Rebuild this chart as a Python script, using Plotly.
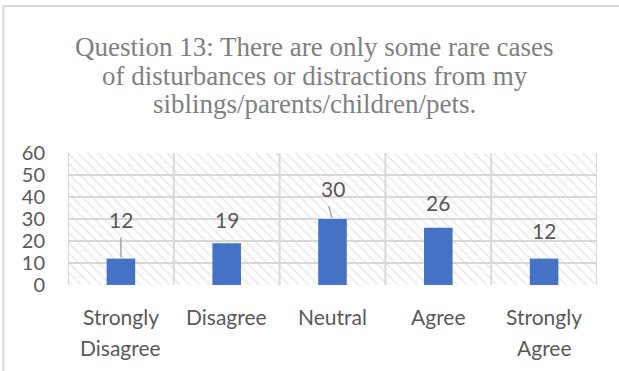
import plotly.graph_objects as go

categories = ["Strongly\nDisagree", "Disagree", "Neutral", "Agree", "Strongly\nAgree"]
values = [12, 19, 30, 26, 12]
y_ticks = [0, 10, 20, 30, 40, 50, 60]
title_lines = ["Question 13: There are only some rare cases",
               "of disturbances or distractions from my",
               "siblings/parents/children/pets."]

# layout / style (not data)
W, H = 619, 371
ML, MR, MT, MB = 68, 22, 153, 86
YMAX = y_ticks[-1]
label_lift = [18, 11, 14, 11.7, 13]      # label offset above bar (in axis units)
BAR_COLOR = "#4472C4"
GRID = "#d9d9d9"
TXT = "#595959"
FONT = "Lato, Open Sans, sans-serif"
TICKFONT = dict(family=FONT, size=21, color=TXT)
YTICKFONT = dict(family=FONT, size=20, color=TXT)

xs = list(range(len(categories)))
pw, ph = W - ML - MR, H - MT - MB

def py(px):  # pixel y from top -> paper y
    return (H - MB - px) / ph

def pxx(px):  # pixel x from left -> paper x
    return (px - ML) / pw

fig = go.Figure()
# hatched plot-area background
fig.add_trace(go.Bar(
    x=xs, y=[YMAX] * len(xs), width=1,
    marker=dict(color="rgba(0,0,0,0)", line=dict(width=0),
                pattern=dict(shape="\\", fgcolor="#d4d4d4", bgcolor="rgba(0,0,0,0)",
                             size=7, solidity=0.22, fillmode="overlay")),
    hoverinfo="skip", showlegend=False,
))
fig.add_trace(go.Bar(
    x=xs, y=values, width=0.27,
    marker=dict(color=BAR_COLOR, line=dict(width=0)),
    showlegend=False,
))

# data labels
for i, v in enumerate(values):
    fig.add_annotation(x=xs[i], y=v + label_lift[i], text=str(v), showarrow=False,
                       font=dict(family=FONT, size=21, color=TXT),
                       xanchor="center", yanchor="middle")

# category labels (two-line, Excel-like spacing)
for i, c in enumerate(categories):
    for j, part in enumerate(c.split("\n")):
        fig.add_annotation(x=xs[i], xref="x", yref="paper", y=py(316 + 31 * j), text=part,
                           showarrow=False, xanchor="center", yanchor="middle",
                           font=TICKFONT)

# leader lines
fig.add_shape(type="line", x0=xs[0], x1=xs[0], y0=values[0] + 0.5, y1=values[0] + 9.6,
              line=dict(color="#a6a6a6", width=1.5), layer="above")
fig.add_shape(type="line", x0=xs[2] - 0.005, x1=xs[2] - 0.035, y0=values[2] + 0.5, y1=values[2] + 5.8,
              line=dict(color="#a6a6a6", width=1.5), layer="above")

# chart border (top & left)
fig.add_shape(type="path", xref="paper", yref="paper",
              path=f"M {pxx(3.5)} {py(H + 5)} L {pxx(3.5)} {py(6)} L {pxx(W + 5)} {py(6)}",
              line=dict(color=GRID, width=2))

# title (one annotation per line)
for j, line in enumerate(title_lines):
    fig.add_annotation(xref="paper", yref="paper", x=pxx(314.5), y=py(47 + 28.5 * j),
                       text=line, showarrow=False, xanchor="center", yanchor="middle",
                       font=dict(family="Liberation Serif, Times New Roman, serif", size=27,
                                 color="#808080"))

fig.update_layout(
    width=W, height=H, margin=dict(l=ML, r=MR, t=MT, b=MB),
    paper_bgcolor="white", plot_bgcolor="white",
    barmode="overlay", showlegend=False,
    xaxis=dict(range=[-0.5, len(xs) - 0.5], tickmode="array", tickvals=xs,
               ticktext=[""] * len(xs),
               showgrid=False, zeroline=False, showline=False, ticks="",
               tickfont=TICKFONT, fixedrange=True),
    yaxis=dict(range=[0, YMAX], tickmode="array", tickvals=y_ticks, showgrid=True, gridcolor=GRID,
               gridwidth=2, zeroline=False, showline=False, ticks="", ticklabelstandoff=22,
               tickfont=YTICKFONT, fixedrange=True),
)

# vertical category separators
for k in range(len(xs) + 1):
    fig.add_shape(type="line", xref="x", yref="y", x0=k - 0.5, x1=k - 0.5, y0=0, y1=YMAX,
                  line=dict(color=GRID, width=2), layer="below")

fig.write_html("out.html")
